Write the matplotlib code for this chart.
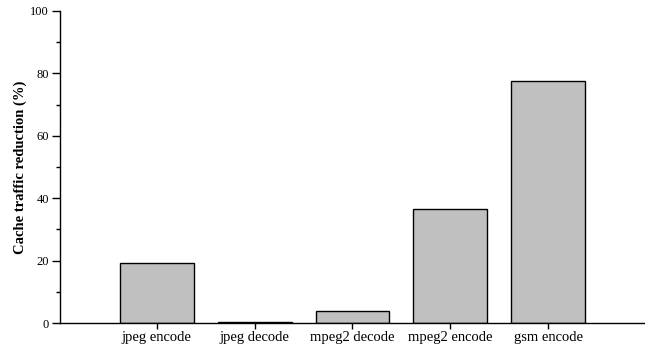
import matplotlib
matplotlib.use('Agg')
import matplotlib.pyplot as plt
from matplotlib.ticker import MultipleLocator

# Benchmarks y reduccion de trafico de cache (%)
benchmarks = ['jpeg encode', 'jpeg decode', 'mpeg2 decode', 'mpeg2 encode', 'gsm encode']
reduction = [19.3, 0.3, 3.8, 36.4, 77.6]

plt.rcParams['font.family'] = ['Liberation Serif', 'DejaVu Serif']

fig = plt.figure(figsize=(6.45, 3.5), dpi=100)
ax = fig.add_axes([0.093, 0.077, 0.907, 0.8916])

x = list(range(len(benchmarks)))
ax.bar(x, reduction, width=0.755, color='#c0c0c0', edgecolor='black', linewidth=1)

ax.set_xlim(-0.99, 4.99)
ax.set_ylim(0, 100)
ax.set_xticks(x)
ax.set_xticklabels(benchmarks, fontsize=10.5)
ax.yaxis.set_major_locator(MultipleLocator(20))
ax.yaxis.set_minor_locator(MultipleLocator(10))
ax.tick_params(axis='y', labelsize=9, length=6, width=1, pad=2)
ax.tick_params(axis='y', which='minor', length=3, width=1)
ax.tick_params(axis='x', length=4, width=1, pad=1.5)

ax.spines['top'].set_visible(False)
ax.spines['right'].set_visible(False)
ax.spines['left'].set_linewidth(1)
ax.spines['bottom'].set_linewidth(1)

ax.set_ylabel('Cache traffic reduction (%)', fontsize=10.5, fontweight='bold', labelpad=2)

fig.savefig('out.png', dpi=100)
